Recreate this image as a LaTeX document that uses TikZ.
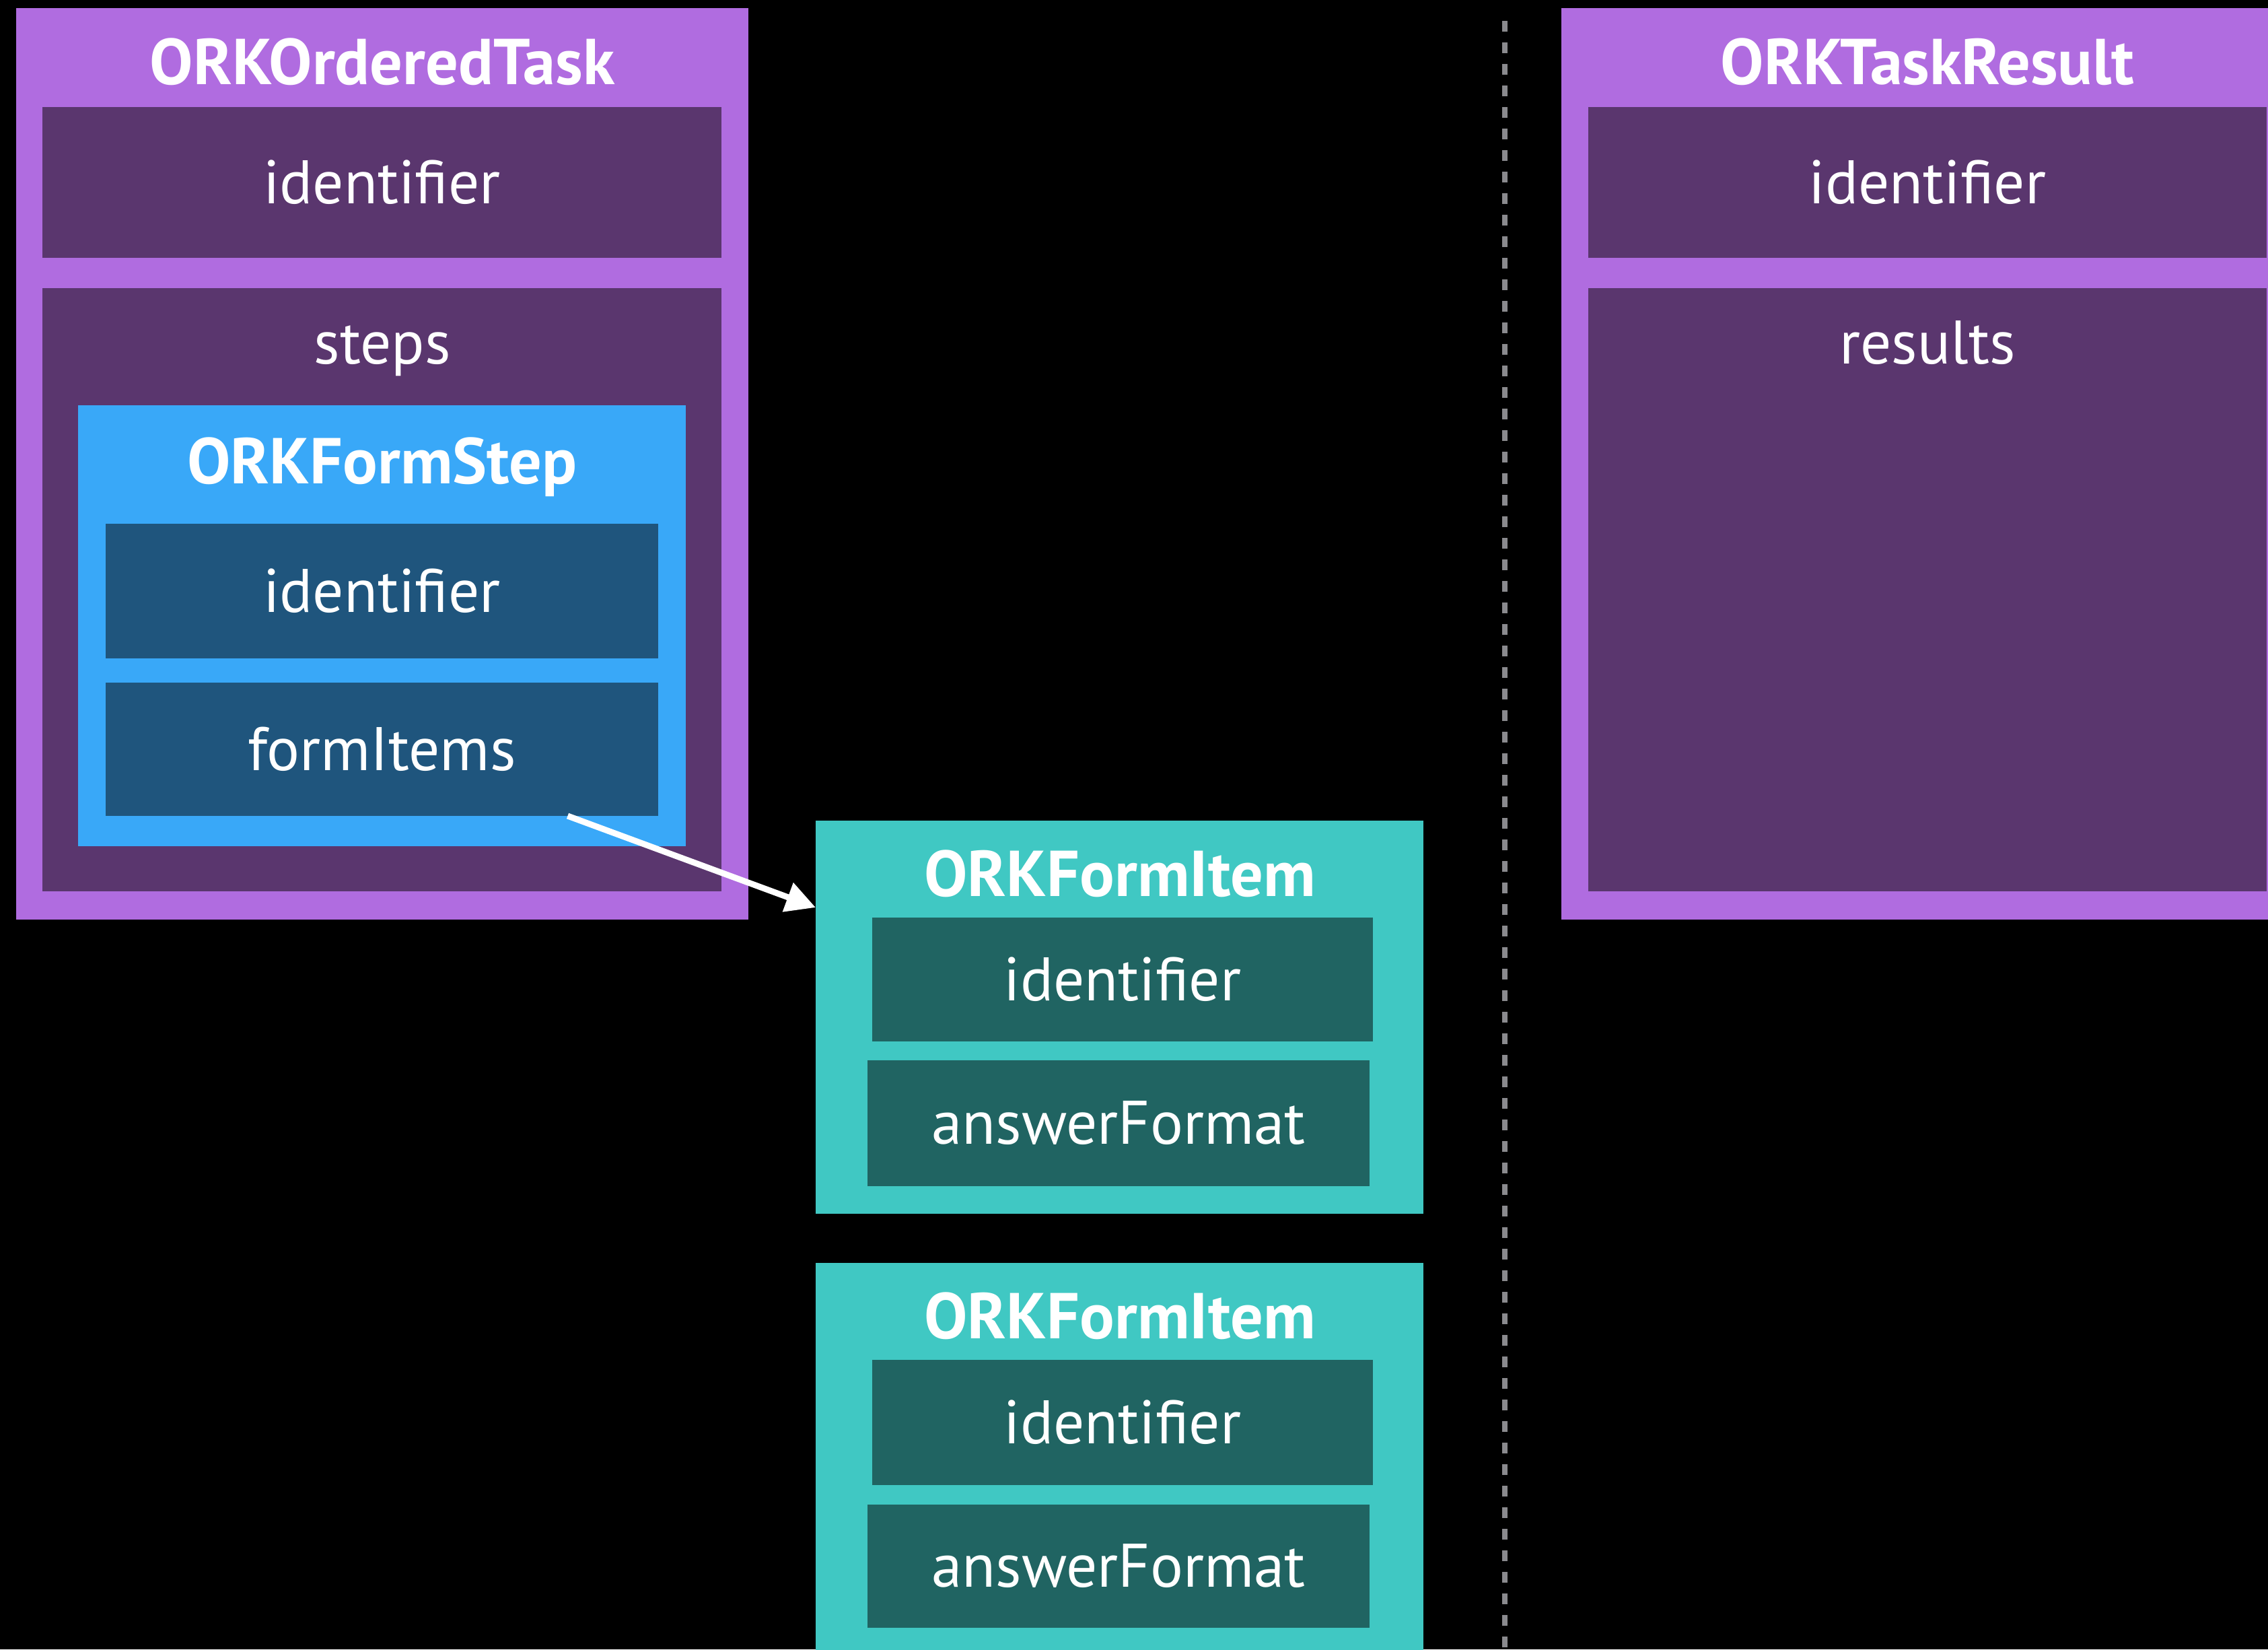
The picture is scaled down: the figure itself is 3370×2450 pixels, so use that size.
\documentclass[tikz,border=0pt]{standalone}
\usepackage{fontspec}
\setmainfont{PT Sans}
\usetikzlibrary{fit,arrows.meta}
\definecolor{taskpurple}{HTML}{B06CE0}
\definecolor{fieldpurple}{HTML}{5A366E}
\definecolor{stepblue}{HTML}{39A8F8}
\definecolor{fieldblue}{HTML}{1F557D}
\definecolor{itemteal}{HTML}{40C8C3}
\definecolor{fieldteal}{HTML}{206462}
\definecolor{dashgray}{HTML}{8A8A8E}
\tikzset{obj/.style={inner sep=0pt, outer sep=0pt},
  caption/.style={text=white, inner sep=0pt, anchor=base, font=\fontsize{26}{30}\selectfont},
  fieldtext/.style={caption, anchor=center},
  heading/.style={text=white, inner sep=0pt, anchor=base, font=\bfseries\fontsize{27.4}{32}\selectfont},
  flow/.style={white, line width=0.9mm, -{Triangle[length=4.4mm, width=4.4mm]}},
  divider/.style={dashgray, line width=0.8mm, dash pattern=on 1.6mm off 1.6mm}}

\begin{document}
\begin{tikzpicture}[x=0.1mm, y=-0.1mm]
  \clip (0,0) rectangle (3370,2450);
  \fill[black] (0,0) rectangle (3370,2450);
  % ORKOrderedTask
  \node[obj, fill=taskpurple, fit={(24,12) (1112,1366)}] (task) {};
  \node[heading] (task-title) at (568,125) {ORKOrderedTask};
  \node[obj, fill=fieldpurple, fit={(63,159) (1072,383)}] (task-id) {};
  \node[fieldtext] (task-id-text) at (task-id) {identifier};
  \node[obj, fill=fieldpurple, fit={(63,428) (1072,1324)}] (task-steps) {};
  \node[caption] (steps-text) at (568,540) {steps};
  % ORKFormStep
  \node[obj, fill=stepblue, fit={(116,602) (1019,1257)}] (step) {};
  \node[heading] (step-title) at (568,718) {ORKFormStep};
  \node[obj, fill=fieldblue, fit={(157,778) (978,978)}] (step-id) {};
  \node[fieldtext] (step-id-text) at (step-id) {identifier};
  \node[obj, fill=fieldblue, fit={(157,1014) (978,1212)}] (step-items) {};
  \node[fieldtext] (step-items-text) at (step-items) {formItems};
  % ORKFormItem
  \node[obj, fill=itemteal, fit={(1212,1219) (2115,1803)}] (item1) {};
  \node[heading] (item1-title) at (1664,1331) {ORKFormItem};
  \node[obj, fill=fieldteal, fit={(1296,1363) (2040,1547)}] (item1-id) {};
  \node[fieldtext] (item1-id-text) at (item1-id) {identifier};
  \node[obj, fill=fieldteal, fit={(1289,1575) (2035,1762)}] (item1-fmt) {};
  \node[fieldtext] (item1-fmt-text) at (item1-fmt) {answerFormat};
  \node[obj, fill=itemteal, fit={(1212,1876) (2115,2470)}] (item2) {};
  \node[heading] (item2-title) at (1664,1988) {ORKFormItem};
  \node[obj, fill=fieldteal, fit={(1296,2020) (2040,2206)}] (item2-id) {};
  \node[fieldtext] (item2-id-text) at (item2-id) {identifier};
  \node[obj, fill=fieldteal, fit={(1289,2235) (2035,2418)}] (item2-fmt) {};
  \node[fieldtext] (item2-fmt-text) at (item2-fmt) {answerFormat};
  \draw[flow] ([xshift=27.6mm]step-items.south) -- ([yshift=-12.9mm]item1.north west);
  % Separation
  \coordinate (div-top) at (2236,31); \coordinate (div-bot) at (2236,2450);
  \draw[divider] (div-top) -- (div-bot);
  % ORKTaskResult
  \node[obj, fill=taskpurple, fit={(2320,12) (3408,1366)}] (result) {};
  \node[heading] (result-title) at (2864,125) {ORKTaskResult};
  \node[obj, fill=fieldpurple, fit={(2360,159) (3368,383)}] (result-id) {};
  \node[fieldtext] (result-id-text) at (result-id) {identifier};
  \node[obj, fill=fieldpurple, fit={(2360,428) (3368,1324)}] (result-list) {};
  \node[caption] (results-text) at (2864,540) {results};
\end{tikzpicture}
\end{document}
